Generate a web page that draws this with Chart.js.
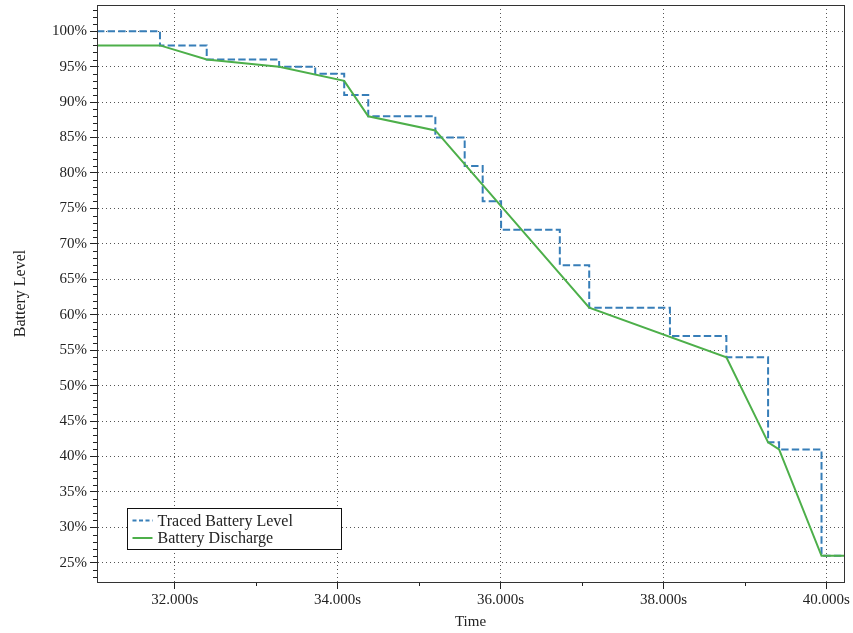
<!DOCTYPE html>
<html>
<head>
<meta charset="utf-8">
<title>Battery Level</title>
<script src="https://cdn.jsdelivr.net/npm/chart.js@4.4.1/dist/chart.umd.min.js"></script>
<style>
  html, body { margin: 0; padding: 0; background: #fff; }
  #chart { display: block; }
</style>
</head>
<body>
<canvas id="chart" width="853" height="633"></canvas>
<script>
// --- data ---
const traceTimes  = [31046, 31819, 32393, 33282, 33725, 34081, 34376, 35200, 35560, 35781, 36007, 36728, 37089, 38080, 38773, 39285, 39420, 39941, 40217];
const traceLevels = [100, 98, 96, 95, 94, 91, 88, 85, 81, 76, 72, 67, 61, 57, 54, 42, 41, 26, 26];

const dischargeTimes  = [31046, 31819, 32393, 33282, 34081, 34376, 35200, 37089, 38773, 39285, 39420, 39941, 40217];
const dischargeLevels = [98, 98, 96, 95, 93, 88, 86, 61, 54, 42, 41, 26, 26];

const xTickValues = [32000, 34000, 36000, 38000, 40000];
const yTickValues = [25, 30, 35, 40, 45, 50, 55, 60, 65, 70, 75, 80, 85, 90, 95, 100];

const seriesLabels = ['Traced Battery Level', 'Battery Discharge'];
const seriesColors = ['#377eb8', '#4daf4a'];

const FONT = '"Liberation Serif", "DejaVu Serif", serif';

function toPoints(xs, ys) {
    return xs.map((t, i) => ({ x: t, y: ys[i] }));
}

// small ticks between the labelled ones + frame round the plot
const minorTicks = {
    id: 'minorTicks',
    afterDraw(chart) {
        const { ctx, chartArea, scales: { x, y } } = chart;
        ctx.save();
        ctx.strokeStyle = '#222';
        ctx.lineWidth = 1;
        ctx.beginPath();
        for (let v = Math.ceil(y.min); v <= y.max; v++) {
            if (v % 5 === 0) continue;
            const py = Math.round(y.getPixelForValue(v)) + 0.5;
            ctx.moveTo(chartArea.left - 4, py);
            ctx.lineTo(chartArea.left, py);
        }
        for (let v = Math.ceil(x.min / 1000) * 1000; v <= x.max; v += 1000) {
            if (v % 2000 === 0) continue;
            const px = Math.round(x.getPixelForValue(v)) + 0.5;
            ctx.moveTo(px, chartArea.bottom);
            ctx.lineTo(px, chartArea.bottom + 4);
        }
        ctx.stroke();
        ctx.strokeStyle = '#333';
        ctx.strokeRect(Math.round(chartArea.left) + 0.5, Math.round(chartArea.top) + 0.5,
            Math.round(chartArea.width), Math.round(chartArea.height));
        ctx.restore();
    }
};

// legend box in the lower left corner of the plot
const boxLegend = {
    id: 'boxLegend',
    afterDraw(chart) {
        const { ctx, chartArea } = chart;
        const bx = Math.round(chartArea.left + 30) + 0.5;
        const by = Math.round(chartArea.bottom - 74) + 0.5;
        const bw = 214, bh = 41;
        ctx.save();
        ctx.fillStyle = '#fff';
        ctx.fillRect(bx, by, bw, bh);
        ctx.strokeStyle = '#111';
        ctx.lineWidth = 1;
        ctx.strokeRect(bx, by, bw, bh);
        ctx.font = '16px ' + FONT;
        ctx.textBaseline = 'middle';
        seriesLabels.forEach((label, i) => {
            const ly = by + 12 + i * 17.5;
            ctx.beginPath();
            ctx.strokeStyle = seriesColors[i];
            ctx.lineWidth = 2;
            ctx.setLineDash(i === 0 ? [4, 2.5] : []);
            ctx.moveTo(bx + 5, ly);
            ctx.lineTo(bx + 25, ly);
            ctx.stroke();
            ctx.setLineDash([]);
            ctx.fillStyle = '#222';
            ctx.fillText(label, bx + 30, ly + 1);
        });
        ctx.restore();
    }
};

const ctx = document.getElementById('chart');
new Chart(ctx, {
    type: 'line',
    data: {
        datasets: [
            {
                label: seriesLabels[0],
                data: toPoints(traceTimes, traceLevels),
                borderColor: seriesColors[0],
                borderWidth: 2,
                borderDash: [7.4, 3.2],
                stepped: 'before',
                pointRadius: 0,
                fill: false,
                order: 1
            },
            {
                label: seriesLabels[1],
                data: toPoints(dischargeTimes, dischargeLevels),
                borderColor: seriesColors[1],
                borderWidth: 2,
                tension: 0,
                pointRadius: 0,
                fill: false,
                order: 0
            }
        ]
    },
    options: {
        responsive: false,
        animation: false,
        events: [],
        layout: { padding: { top: 5, right: 9, left: 0, bottom: 0 } },
        plugins: {
            legend: { display: false },
            tooltip: { enabled: false }
        },
        scales: {
            x: {
                type: 'linear',
                min: 31046,
                max: 40217,
                afterFit(scale) {
                    scale.height = 51;
                    scale.paddingLeft = 0;
                    scale.paddingRight = 0;
                },
                afterBuildTicks(scale) { scale.ticks = xTickValues.map(v => ({ value: v })); },
                ticks: {
                    color: '#222',
                    font: { family: FONT, size: 15 },
                    padding: 2,
                    maxRotation: 0,
                    callback: v => (v / 1000).toFixed(3) + 's'
                },
                grid: { color: '#555', lineWidth: 1, tickLength: 7, tickColor: '#222', tickBorderDash: [] },
                border: { display: true, color: '#333', width: 1, dash: [1, 3] },
                title: {
                    display: true,
                    text: 'Time',
                    color: '#222',
                    font: { family: FONT, size: 15 },
                    padding: { top: 0, bottom: 2 }
                }
            },
            y: {
                type: 'linear',
                min: 22.3,
                max: 103.7,
                afterFit(scale) {
                    scale.width = 97;
                    scale.paddingTop = 0;
                    scale.paddingBottom = 0;
                },
                afterBuildTicks(scale) { scale.ticks = yTickValues.map(v => ({ value: v })); },
                ticks: {
                    color: '#222',
                    font: { family: FONT, size: 15 },
                    padding: 3,
                    callback: v => v + '%'
                },
                grid: { color: '#555', lineWidth: 1, tickLength: 7, tickColor: '#222', tickBorderDash: [] },
                border: { display: true, color: '#333', width: 1, dash: [1, 3] },
                title: {
                    display: true,
                    text: 'Battery Level',
                    color: '#222',
                    font: { family: FONT, size: 16 },
                    padding: { top: 11, bottom: 0 }
                }
            }
        }
    },
    plugins: [minorTicks, boxLegend]
});
</script>
</body>
</html>
